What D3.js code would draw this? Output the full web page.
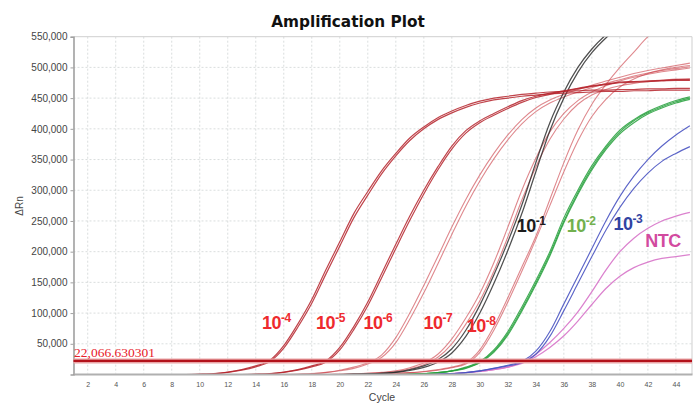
<!DOCTYPE html>
<html><head><meta charset="utf-8">
<script src="https://cdn.jsdelivr.net/npm/d3@7"></script>
<style>html,body{margin:0;padding:0;background:#fff;}svg{display:block;}</style>
</head><body>
<svg id="chart" width="693" height="404"></svg>
<script>
// ---- data (ΔRn in thousands, cycles 1..45) ----
const cycles = [1,2,3,4,5,6,7,8,9,10,11,12,13,14,15,16,17,18,19,20,21,22,23,24,25,26,27,28,29,30,31,32,33,34,35,36,37,38,39,40,41,42,43,44,45];
const xTicks = [2,4,6,8,10,12,14,16,18,20,22,24,26,28,30,32,34,36,38,40,42,44];
const yTicks = [50000,100000,150000,200000,250000,300000,350000,400000,450000,500000,550000];
const threshold = 22066.630301;
const thresholdLabel = "22,066.630301";

const dil4a = [0,0,0,0,0,0,0,0,0,0.5,1.5,4,8,14,23,47,82,122,170,216,262,298,332,360,385,403,418,429,438,445,450,453,456,458,460,461,462,463,463,464,464,465,465,466,466];
const dil4b = [0,0,0,0,0,0,0,0,0,0.4,1.2,3.5,7,12.5,21,43,77,116,163,209,255,292,327,356,381,400,415,426,435,442,447,450,453,455,457,458,459,460,461,461,462,462,463,463,463];
const dil5a = [0,0,0,0,0,0,0,0,0,0,0,0,0,0.5,1.5,4,8,14,22,44,78,118,165,212,258,300,338,372,397,413,425,436,446,453,458,462,466,470,473,476,477,478,479,480,480];
const dil5b = [0,0,0,0,0,0,0,0,0,0,0,0,0,0.4,1.2,3.5,7,12.5,20,40,73,112,158,205,251,294,333,367,393,410,422,433,443,451,456,461,465,469,472,475,476,477,478,479,479];
const dil6a = [0,0,0,0,0,0,0,0,0,0,0,0,0,0,0,0,0.5,1.5,3.5,7,12,19,32,60,100,145,192,240,285,325,360,390,415,434,447,456,464,471,478,484,490,495,499,503,507];
const dil6b = [0,0,0,0,0,0,0,0,0,0,0,0,0,0,0,0,0.5,1,3,6,10,17,28,52,90,133,180,228,274,315,351,382,408,428,442,452,460,467,474,480,486,491,495,498,501];
const dil7a = [0,0,0,0,0,0,0,0,0,0,0,0,0,0,0,0,0,0,0,0.5,1,2,3.5,6,11,19,33,58,92,132,182,240,300,352,395,425,446,460,470,478,484,489,493,496,499];
const dil7b = [0,0,0,0,0,0,0,0,0,0,0,0,0,0,0,0,0,0,0,0.5,1,2,3,5,9,16,28,50,82,120,168,224,284,338,383,416,440,455,464,470,474,477,479,481,482];
const dil8a = [0,0,0,0,0,0,0,0,0,0,0,0,0,0,0,0,0,0,0,0,0,0.5,1,2,3,5,8,12,19,40,78,125,175,225,285,345,398,440,472,500,525,550,568,584,596];
const dil8b = [0,0,0,0,0,0,0,0,0,0,0,0,0,0,0,0,0,0,0,0,0,0.5,1,2,3,4.5,7,11,17,36,72,118,168,220,275,330,380,420,448,468,481,490,496,500,503];
const dil1a = [0,0,0,0,0,0,0,0,0,0,0,0,0,0,0,0,0,0,0,0,0.5,1,2,4,8,14,24,42,72,113,162,216,276,345,410,460,500,530,553,571,586,598,608,616,622];
const dil1b = [0,0,0,0,0,0,0,0,0,0,0,0,0,0,0,0,0,0,0,0,0.5,1,2,3.5,6.5,11.5,20,35,62,100,148,202,262,330,397,450,492,524,548,567,582,594,604,612,618];
const dil2a = [0,0,0,0,0,0,0,0,0,0,0,0,0,0,0,0,0,0,0,0,0,0,0,0,0.5,1.5,3,6,12,21,40,70,110,153,200,255,300,340,372,398,415,428,438,446,452];
const dil2b = [0,0,0,0,0,0,0,0,0,0,0,0,0,0,0,0,0,0,0,0,0,0,0,0,0.5,1.5,3,6,11,20,38,67,106,149,196,250,296,336,369,395,413,426,436,444,450];
const dil2c = [0,0,0,0,0,0,0,0,0,0,0,0,0,0,0,0,0,0,0,0,0,0,0,0,0.5,1.5,3,5.5,10,19,36,64,103,146,193,247,293,333,366,392,410,424,434,442,448];
const dil3a = [0,0,0,0,0,0,0,0,0,0,0,0,0,0,0,0,0,0,0,0,0,0,0,0,0,0,0.5,1.5,3,6,10,15,21,38,70,115,160,205,250,290,323,350,372,390,405];
const dil3b = [0,0,0,0,0,0,0,0,0,0,0,0,0,0,0,0,0,0,0,0,0,0,0,0,0,0,0.5,1.5,3,6,10,14,19,33,62,104,148,192,235,272,303,328,347,360,371];
const ntcA = [0,0,0,0,0,0,0,0,0,0,0,0,0,0,0,0,0,0,0,0,0,0,0,0,0,0,0.5,1.5,3,5,8,12,20,33,52,75,102,135,170,200,222,238,250,258,264];
const ntcB = [0,0,0,0,0,0,0,0,0,0,0,0,0,0,0,0,0,0,0,0,0,0,0,0,0,0,0.5,1.5,3,5,8,12,18,29,44,63,87,114,140,160,174,183,189,192,195];

const labels = [
  {base:"10", sup:"-4", group:"red"},
  {base:"10", sup:"-5", group:"red"},
  {base:"10", sup:"-6", group:"red"},
  {base:"10", sup:"-7", group:"red"},
  {base:"10", sup:"-8", group:"red"},
  {base:"10", sup:"-1", group:"black"},
  {base:"10", sup:"-2", group:"green"},
  {base:"10", sup:"-3", group:"blue"},
  {base:"NTC", sup:"", group:"pink"}
];
// label anchor positions in data units (cycle, ΔRn)
const labelCycle = [14.45, 18.31, 21.69, 25.97, 29.07, 32.64, 36.21, 39.54, 41.81];
const labelValue = [74000, 74000, 74000, 74000, 70000, 232000, 232000, 235000, 208000];

// ---- styles ----
const styles = {
  dark:  {stroke:"#b5232c", width:1.2, op:0.85},
  pale:  {stroke:"#c93a43", width:1.1, op:0.6},
  black: {stroke:"#2a2a2a", width:1.25, op:0.82},
  green: {stroke:"#24a03b", width:1.15, op:0.85},
  blue:  {stroke:"#4a54c2", width:1.15, op:0.9},
  pink:  {stroke:"#d774c9", width:1.25, op:0.9}
};
const labelColors = {red:"#ee2a2e", black:"#1c1c1c", green:"#72b04e", blue:"#3143a2", pink:"#d24a9f"};

const series = [
  {v:ntcA, s:"pink"},{v:ntcB, s:"pink"},
  {v:dil3a, s:"blue"},{v:dil3b, s:"blue"},
  {v:dil2a, s:"green"},{v:dil2b, s:"green"},{v:dil2c, s:"green"},
  {v:dil6a, s:"pale"},{v:dil6b, s:"pale"},
  {v:dil7a, s:"pale"},{v:dil7b, s:"pale"},
  {v:dil8a, s:"pale"},{v:dil8b, s:"pale"},
  {v:dil1a, s:"black"},{v:dil1b, s:"black"},
  {v:dil5a, s:"dark"},{v:dil5b, s:"dark"},
  {v:dil4a, s:"dark"},{v:dil4b, s:"dark"}
];

// ---- layout ----
const L = 73.5, R = 692, T = 36.7, B = 374.5;
const svg = d3.select("#chart");
const x = d3.scaleLinear().domain([1, 45.15]).range([73.7, R]);
const y = d3.scaleLinear().domain([0, 550000]).range([B, T]);

svg.append("defs").append("clipPath").attr("id","plotclip")
  .append("rect").attr("x",L).attr("y",T).attr("width",R-L).attr("height",B-T);

// title
svg.append("text").attr("x",348).attr("y",27).attr("text-anchor","middle")
  .attr("font-family","DejaVu Sans, sans-serif").attr("font-weight","bold").attr("font-size",15.3)
  .attr("fill","#111").text("Amplification Plot");

// grid
const grid = svg.append("g");
grid.selectAll("line.v").data(xTicks).enter().append("line")
  .attr("x1",d=>x(d)).attr("x2",d=>x(d)).attr("y1",T).attr("y2",B-1)
  .attr("stroke","#d0d5d5").attr("stroke-width",0.8).attr("stroke-dasharray","2,2");
grid.selectAll("line.h").data(yTicks.slice(0,-1)).enter().append("line")
  .attr("x1",L).attr("x2",R).attr("y1",d=>y(d)).attr("y2",d=>y(d))
  .attr("stroke","#d0d5d5").attr("stroke-width",0.8).attr("stroke-dasharray","2,2");

// frame
svg.append("line").attr("x1",L).attr("x2",R).attr("y1",T).attr("y2",T).attr("stroke","#cfcfcf").attr("stroke-width",1);
svg.append("line").attr("x1",R).attr("x2",R).attr("y1",T).attr("y2",B).attr("stroke","#cfcfcf").attr("stroke-width",1);

// curves
const line = d3.line().x((d,i)=>x(cycles[i])).y(d=>y(d*1000)).curve(d3.curveMonotoneX);
const gc = svg.append("g").attr("clip-path","url(#plotclip)");
series.forEach(sr=>{
  const st = styles[sr.s];
  gc.append("path").attr("d",line(sr.v)).attr("fill","none")
    .attr("stroke",st.stroke).attr("stroke-width",st.width).attr("stroke-opacity",st.op)
    .attr("stroke-linejoin","round");
});

// y axis
const yAxis = d3.axisLeft(y).tickValues(yTicks).tickFormat(d3.format(",")).tickSize(3).tickPadding(3);
const gy = svg.append("g").attr("transform",`translate(${L},0)`).call(yAxis);
gy.select(".domain").attr("stroke","#a0a0a0").attr("stroke-width",1.6);
gy.selectAll(".tick line").attr("stroke","#a0a0a0");
gy.selectAll("text").attr("font-family","Liberation Sans, Arial, sans-serif").attr("font-size",10).attr("fill","#444");

// x axis (drawn over curve baselines)
const xAxis = d3.axisBottom(x).tickValues(xTicks).tickFormat(d3.format("d")).tickSize(0).tickPadding(8);
const gx = svg.append("g").attr("transform",`translate(0,${B-0.5})`).call(xAxis);
gx.select(".domain").attr("stroke","#b0b0b0").attr("stroke-width",2.2);
gx.selectAll("text").attr("font-family","Liberation Sans, Arial, sans-serif").attr("font-size",7).attr("fill","#555");

// axis titles
svg.append("text").attr("x",382).attr("y",401).attr("text-anchor","middle")
  .attr("font-family","Liberation Sans, Arial, sans-serif").attr("font-size",10.5).attr("fill","#444").text("Cycle");
svg.append("text").attr("transform","translate(23,206) rotate(-90)").attr("text-anchor","middle")
  .attr("font-family","Liberation Sans, Arial, sans-serif").attr("font-size",10).attr("fill","#444").text("ΔRn");

// threshold
svg.append("line").attr("x1",L).attr("x2",R).attr("y1",y(threshold)).attr("y2",y(threshold))
  .attr("stroke","#eaa4a6").attr("stroke-width",5);
svg.append("line").attr("x1",L).attr("x2",R).attr("y1",y(threshold)).attr("y2",y(threshold))
  .attr("stroke","#b3121b").attr("stroke-width",2.2);
svg.append("text").attr("x",74).attr("y",y(threshold)-4)
  .attr("font-family","Liberation Serif, Times New Roman, serif").attr("font-size",13.5)
  .attr("fill","#e8202a").text(thresholdLabel);

// dilution labels
const gl = svg.append("g");
labels.forEach((lb,i)=>{
  const t = gl.append("text").attr("x",x(labelCycle[i])).attr("y",y(labelValue[i]))
    .attr("font-family","Liberation Sans, Arial, sans-serif").attr("font-weight","bold")
    .attr("font-size",18).attr("fill",labelColors[lb.group]).attr("letter-spacing",-0.5);
  t.append("tspan").text(lb.base);
  if (lb.sup) t.append("tspan").attr("dy",-7).attr("font-size",12).text(lb.sup);
});
</script>
</body></html>
